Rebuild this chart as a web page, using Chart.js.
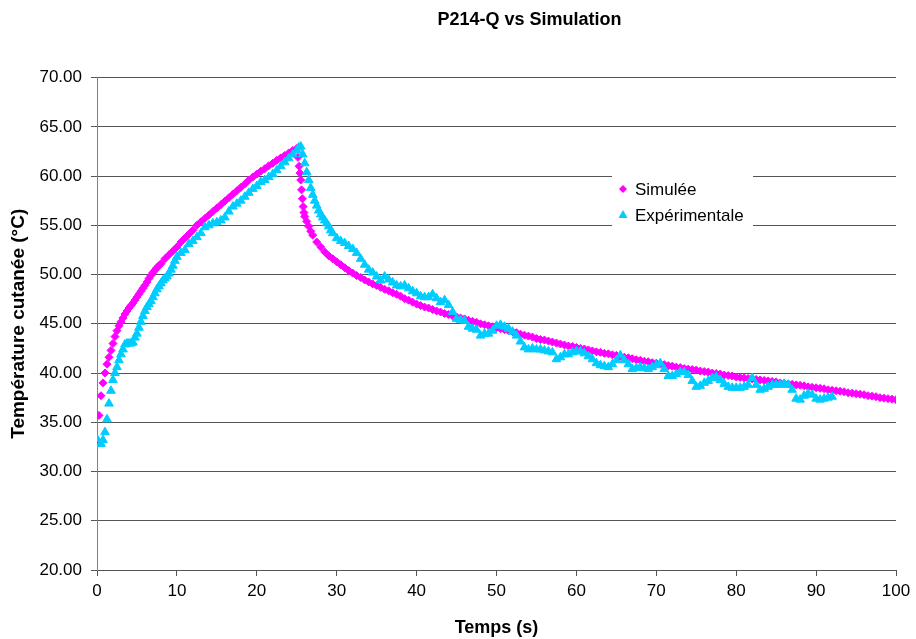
<!DOCTYPE html>
<html>
<head>
<meta charset="utf-8">
<script src="https://cdn.jsdelivr.net/npm/chart.js@4.4.0/dist/chart.umd.min.js"></script>
<style>
  html, body { margin: 0; padding: 0; background: #fff; }
</style>
</head>
<body>
<canvas id="tempChart" width="916" height="639"></canvas>
<script>
// simulated curve, one value every 0.5 s from 0 to 100 s
var simStep = 0.5;
var simTemp = [
  33.2, 37.7, 40.0, 41.6, 43.0, 44.3, 45.2, 46.0, 46.6, 47.1,
  47.7, 48.3, 48.9, 49.6, 50.2, 50.7, 51.1, 51.6, 52.0, 52.4,
  52.8, 53.3, 53.7, 54.1, 54.5, 55.0, 55.35, 55.7, 56.05, 56.4,
  56.75, 57.1, 57.45, 57.8, 58.15, 58.5, 58.85, 59.2, 59.6, 59.9,
  60.2, 60.5, 60.75, 61.05, 61.3, 61.6, 61.85, 62.1, 62.35, 62.6,
  62.8, 59.6, 55.9, 54.9, 54.0, 53.3, 52.8, 52.3, 51.9, 51.6,
  51.3, 51.0, 50.7, 50.4, 50.15, 49.9, 49.7, 49.45, 49.25, 49.05,
  48.9, 48.7, 48.5, 48.35, 48.15, 48.0, 47.8, 47.55, 47.4, 47.2,
  47.0, 46.85, 46.7, 46.6, 46.45, 46.3, 46.2, 46.05, 45.95, 45.8,
  45.7, 45.6, 45.5, 45.35, 45.25, 45.15, 45.0, 44.9, 44.8, 44.7,
  44.6, 44.5, 44.4, 44.3, 44.2, 44.1, 43.95, 43.85, 43.75, 43.65,
  43.5, 43.4, 43.35, 43.25, 43.15, 43.05, 42.95, 42.85, 42.75, 42.7,
  42.6, 42.5, 42.45, 42.35, 42.25, 42.15, 42.1, 42.0, 41.95, 41.85,
  41.8, 41.7, 41.6, 41.55, 41.45, 41.35, 41.3, 41.2, 41.15, 41.05,
  41.0, 40.9, 40.85, 40.75, 40.7, 40.6, 40.55, 40.45, 40.4, 40.35,
  40.3, 40.2, 40.15, 40.1, 40.0, 39.95, 39.9, 39.8, 39.75, 39.7,
  39.6, 39.55, 39.5, 39.45, 39.4, 39.35, 39.3, 39.25, 39.2, 39.15,
  39.1, 39.0, 38.95, 38.9, 38.85, 38.8, 38.75, 38.7, 38.6, 38.55,
  38.5, 38.45, 38.4, 38.3, 38.25, 38.2, 38.15, 38.1, 38.0, 37.95,
  37.9, 37.85, 37.8, 37.7, 37.65, 37.6, 37.5, 37.45, 37.4, 37.35,
  37.3
];
// extra simulated points where the curve is steep
var simExtraTime = [0.25, 0.75, 1.25, 1.75, 2.25, 2.75, 3.25, 3.75, 4.25, 4.75,
  5.25, 5.75, 6.25, 6.75, 7.25, 7.75,
  25.15, 25.3, 25.4, 25.6, 25.7, 25.8, 25.9, 26.25, 26.75];
var simExtraTemp = [35.7, 39.0, 40.9, 42.3, 43.7, 44.8, 45.6, 46.3, 46.85, 47.4,
  48.0, 48.6, 49.25, 49.9, 50.45, 50.9,
  61.9, 61.0, 60.3, 58.6, 57.7, 56.9, 56.3, 55.4, 54.4];

// measured curve, one value every 0.5 s from 0 to 92 s
var expStep = 0.5;
var expTemp = [
  33.3, 32.8, 34.0, 36.9, 39.3, 40.6, 41.9, 42.9, 43.0, 43.1,
  44.0, 45.2, 46.3, 47.0, 47.7, 48.5, 49.1, 49.6, 50.1, 50.9,
  51.8, 52.2, 52.5, 53.1, 53.4, 53.8, 54.2, 54.8, 55.0, 55.2,
  55.3, 55.5, 55.8, 56.4, 56.9, 57.2, 57.5, 57.9, 58.3, 58.7,
  59.0, 59.4, 59.6, 59.9, 60.2, 60.6, 61.0, 61.4, 61.8, 62.2,
  62.6, 63.0, 61.3, 59.6, 58.1, 57.0, 56.1, 55.5, 54.9, 54.2,
  53.7, 53.4, 53.2, 52.9, 52.6, 52.2, 51.6, 51.0, 50.5, 50.2,
  49.8, 49.4, 49.8, 49.5, 49.2, 48.9, 48.8, 48.9, 48.6, 48.3,
  48.1, 47.8, 47.7, 47.7, 48.0, 47.6, 47.2, 47.4, 46.9, 46.2,
  45.5, 45.4, 45.3, 44.7, 44.5, 44.4, 43.8, 44.0, 44.0, 44.3,
  44.8, 44.9, 44.7, 44.5, 44.2, 43.8, 43.2, 42.6, 42.4, 42.5,
  42.4, 42.4, 42.3, 42.2, 42.1, 41.4, 41.6, 41.9, 41.9, 42.1,
  42.2, 42.2, 42.0, 41.7, 41.4, 41.0, 40.8, 40.7, 40.6, 40.9,
  41.3, 41.8, 41.3, 40.9, 40.4, 40.5, 40.6, 40.5, 40.4, 40.6,
  40.8, 41.0, 40.4, 39.7, 39.7, 39.9, 40.1, 40.1, 39.8, 39.2,
  38.6, 38.7, 39.0, 39.2, 39.5, 39.6, 39.3, 38.9, 38.6, 38.5,
  38.5, 38.5, 38.6, 38.8, 39.5, 38.8, 38.3, 38.4, 38.6, 38.8,
  38.8, 38.8, 38.9, 38.8, 38.3, 37.4, 37.3, 37.7, 37.9, 37.8,
  37.4, 37.3, 37.4, 37.5, 37.6
];
var expExtraTime = [0.75, 1.25, 1.75, 2.25, 2.75, 3.25, 3.75, 4.25, 4.75,
  5.25, 5.75, 6.25, 6.75, 7.25, 7.75, 8.25, 8.75, 9.25, 9.75,
  25.25, 25.75, 26.25, 26.75, 27.25, 27.75, 28.25, 28.75, 29.25];
var expExtraTemp = [33.2, 35.3, 38.2, 40.0, 41.3, 42.4, 43.0, 43.0, 43.6,
  44.6, 45.8, 46.7, 47.3, 48.1, 48.8, 49.4, 49.8, 50.5, 51.4,
  62.9, 62.2, 60.4, 58.8, 57.5, 56.5, 55.8, 55.2, 54.5];

var seriesNames = ['Simulée', 'Expérimentale'];
var yMin = 20, yMax = 70, yStep = 5;
var xMin = 0, xMax = 100, xStep = 10;

function toPoints(step, temps, extraTime, extraTemp) {
  var pts = temps.map(function (v, i) { return { x: i * step, y: v }; });
  extraTime.forEach(function (t, i) { pts.push({ x: t, y: extraTemp[i] }); });
  return pts;
}

Chart.defaults.font.family = '"Liberation Sans", Arial, sans-serif';
Chart.defaults.color = '#000';

// legend box sitting inside the plot, like the Excel one
var boxLegend = {
  id: 'boxLegend',
  afterDatasetsDraw: function (chart) {
    var ctx = chart.ctx;
    var bx = 612, by = 165, bw = 141, bh = 68;
    ctx.save();
    ctx.fillStyle = '#fff';
    ctx.fillRect(bx, by, bw, bh);
    ctx.font = '17px "Liberation Sans", Arial, sans-serif';
    ctx.textBaseline = 'middle';
    chart.data.datasets.forEach(function (ds, i) {
      var cx = bx + 11, cy = by + 24 + i * 26;
      ctx.fillStyle = ds.backgroundColor;
      ctx.beginPath();
      if (ds.pointStyle === 'triangle') {
        ctx.moveTo(cx, cy - 5);
        ctx.lineTo(cx + 4.5, cy + 3);
        ctx.lineTo(cx - 4.5, cy + 3);
      } else {
        ctx.moveTo(cx, cy - 4);
        ctx.lineTo(cx + 4, cy);
        ctx.lineTo(cx, cy + 4);
        ctx.lineTo(cx - 4, cy);
      }
      ctx.closePath();
      ctx.fill();
      ctx.fillStyle = '#000';
      ctx.fillText(ds.label, bx + 23, cy + 1);
    });
    ctx.restore();
  }
};

// Excel centres its title a bit right of the canvas middle
var titleShift = {
  id: 'titleShift',
  afterLayout: function (chart) {
    chart.titleBlock.left = 143;
    chart.titleBlock.right = 916;
  }
};

var ctx = document.getElementById('tempChart');
var tempChart = new Chart(ctx, {
  type: 'scatter',
  data: {
    datasets: [{
      label: seriesNames[0],
      data: toPoints(simStep, simTemp, simExtraTime, simExtraTemp),
      pointStyle: 'rectRot',
      pointRadius: 4,
      borderWidth: 1,
      backgroundColor: '#FF00FF',
      borderColor: '#FF00FF',
      order: 1
    }, {
      label: seriesNames[1],
      data: toPoints(expStep, expTemp, expExtraTime, expExtraTemp),
      pointStyle: 'triangle',
      pointRadius: 5,
      borderWidth: 1,
      backgroundColor: '#00CCFF',
      borderColor: '#00CCFF',
      order: 0
    }]
  },
  options: {
    responsive: false,
    animation: false,
    layout: { padding: { left: 0, right: 20, top: 0, bottom: 0 } },
    plugins: {
      legend: { display: false },
      tooltip: { enabled: false },
      title: {
        display: true,
        text: 'P214-Q vs Simulation',
        font: { size: 18, weight: 'bold' },
        color: '#000',
        padding: { top: 9, bottom: 47 }
      }
    },
    scales: {
      x: {
        type: 'linear',
        min: xMin,
        max: xMax,
        ticks: { stepSize: xStep, font: { size: 17 }, padding: 5, maxRotation: 0 },
        grid: { drawOnChartArea: false, tickLength: 6, color: '#555' },
        border: { color: '#555' },
        title: {
          display: true,
          text: 'Temps (s)',
          font: { size: 18, weight: 'bold' },
          padding: { top: 4, bottom: 0 }
        },
        afterFit: function (s) { s.height = 69; }
      },
      y: {
        min: yMin,
        max: yMax,
        ticks: {
          stepSize: yStep,
          font: { size: 17 },
          padding: 9,
          callback: function (v) { return v.toFixed(2); }
        },
        grid: { tickLength: 6, color: '#555' },
        border: { color: '#808080' },
        title: {
          display: true,
          text: 'Température cutanée (°C)',
          font: { size: 19, weight: 'bold' },
          padding: { top: 7, bottom: 0 }
        },
        afterFit: function (s) { s.width = 97; }
      }
    }
  },
  plugins: [boxLegend, titleShift]
});
</script>
</body>
</html>
